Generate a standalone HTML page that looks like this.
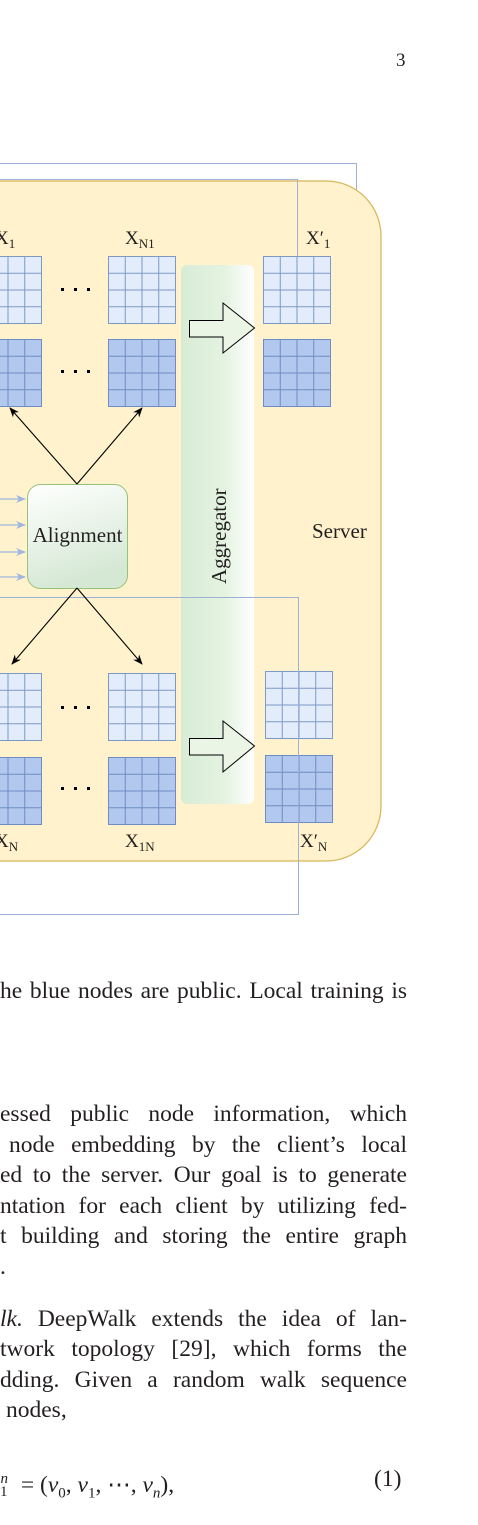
<!DOCTYPE html>
<html><head><meta charset="utf-8"><style>
body{margin:0;width:478px;height:1525px;background:#fff;position:relative;overflow:hidden;font-family:"Liberation Serif",serif;color:#231f20}
svg{position:absolute;left:0;top:0}
.t{position:absolute;left:0;width:407px;font-size:23.5px;line-height:25px;white-space:nowrap;text-align:justify;text-align-last:justify}
.r{text-align-last:left}
</style></head><body>
<div style="position:absolute;left:396px;top:50px;font-size:19px">3</div>
<svg width="478" height="1000" viewBox="0 0 478 1000">
<defs>
<linearGradient id="ag" x1="0" x2="1"><stop offset="0" stop-color="#d8ecd5"/><stop offset="0.6" stop-color="#e4f3e1"/><stop offset="1" stop-color="#ffffff"/></linearGradient>
<linearGradient id="al" x1="0" y1="0" x2="0.3" y2="1"><stop offset="0" stop-color="#ffffff"/><stop offset="1" stop-color="#d5e8d4"/></linearGradient>
<symbol id="gl" viewBox="0 0 68 68" width="68" height="68"><rect x="0.5" y="0.5" width="67" height="67" fill="#e3ecfa" stroke="#7d99c8"/><path d="M17.25 0.5V67.5M34 0.5V67.5M50.75 0.5V67.5M0.5 17.25H67.5M0.5 34H67.5M0.5 50.75H67.5" stroke="#7d99c8" stroke-width="1"/></symbol>
<symbol id="gd" viewBox="0 0 68 68" width="68" height="68"><rect x="0.5" y="0.5" width="67" height="67" fill="#b3c8ef" stroke="#6f8cc4"/><path d="M17.25 0.5V67.5M34 0.5V67.5M50.75 0.5V67.5M0.5 17.25H67.5M0.5 34H67.5M0.5 50.75H67.5" stroke="#6f8cc4" stroke-width="1"/></symbol>
<marker id="ah" markerWidth="10" markerHeight="10" refX="9" refY="5" orient="auto" markerUnits="userSpaceOnUse"><path d="M0,1 L10,5 L0,9 L3,5z" fill="#000"/></marker>
<marker id="bh" markerWidth="10" markerHeight="10" refX="9" refY="5" orient="auto" markerUnits="userSpaceOnUse"><path d="M0,1 L10,5 L0,9 L3,5z" fill="#9fb6e0"/></marker>
</defs>
<path d="M0 163.5H356.5V372.5H332" fill="none" stroke="#9fb0d6" stroke-width="1"/>
<rect x="-60" y="181" width="441" height="680" rx="55" fill="#fff2cc" stroke="#d6b656" stroke-width="1.2"/>
<path d="M0 179.5H297.5V256" fill="none" stroke="#9fb0d6" stroke-width="1"/>
<rect x="181" y="265" width="73" height="539" rx="6" fill="url(#ag)"/>
<use href="#gl" x="-26" y="256"/><use href="#gl" x="108" y="256"/><use href="#gl" x="263" y="256"/>
<use href="#gd" x="-26" y="339"/><use href="#gd" x="108" y="339"/><use href="#gd" x="263" y="339"/>
<use href="#gl" x="-26" y="673"/><use href="#gl" x="108" y="673"/><use href="#gl" x="265" y="671"/>
<use href="#gd" x="-26" y="757"/><use href="#gd" x="108" y="757"/><use href="#gd" x="265" y="755"/>
<g fill="#000">
<rect x="61" y="288" width="3" height="3"/><rect x="74" y="288" width="3" height="3"/><rect x="87" y="288" width="3" height="3"/>
<rect x="61" y="370" width="3" height="3"/><rect x="74" y="370" width="3" height="3"/><rect x="87" y="370" width="3" height="3"/>
<rect x="61" y="706" width="3" height="3"/><rect x="74" y="706" width="3" height="3"/><rect x="87" y="706" width="3" height="3"/>
<rect x="61" y="787" width="3" height="3"/><rect x="74" y="787" width="3" height="3"/><rect x="87" y="787" width="3" height="3"/>
</g>
<g font-size="19" fill="#231f20">
<text x="-5" y="244">X<tspan font-size="13" dy="4">1</tspan></text>
<text x="125" y="244">X<tspan font-size="13" dy="4">N1</tspan></text>
<text x="306" y="244">X′<tspan font-size="13" dy="4">1</tspan></text>
<text x="-5" y="847">X<tspan font-size="13" dy="4">N</tspan></text>
<text x="125" y="847">X<tspan font-size="13" dy="4">1N</tspan></text>
<text x="300" y="847">X′<tspan font-size="13" dy="4">N</tspan></text>
<text x="312" y="538" font-size="21">Server</text>
<text transform="translate(226,584) rotate(-90)" font-size="21">Aggregator</text>
</g>
<path d="M189.5 320.5H223V303L254.5 328L223 353V337H189.5Z" fill="#eaf5e6" stroke="#000" stroke-width="1"/>
<path d="M189.5 738.5H223V721L254.5 746L223 772V755H189.5Z" fill="#eaf5e6" stroke="#000" stroke-width="1"/>
<path d="M0 597.5H298.5V914.5H0" fill="none" stroke="#9fb0d6" stroke-width="1"/>
<rect x="27.5" y="484.5" width="100" height="104" rx="13" fill="url(#al)" stroke="#97c27a" stroke-width="1"/>
<text x="77.5" y="542" font-size="21" text-anchor="middle" fill="#231f20">Alignment</text>
<g stroke="#000" stroke-width="1.1" fill="none">
<path d="M77 484L10 408" marker-end="url(#ah)"/><path d="M77 484L142 408" marker-end="url(#ah)"/>
<path d="M77 588L12 664" marker-end="url(#ah)"/><path d="M77 588L142 664" marker-end="url(#ah)"/>
</g>
<g stroke="#9fb6e0" stroke-width="1.2" fill="none">
<path d="M0 499H25" marker-end="url(#bh)"/><path d="M0 525H25" marker-end="url(#bh)"/><path d="M0 552H25" marker-end="url(#bh)"/><path d="M0 577H25" marker-end="url(#bh)"/>
</g>
</svg>
<div class="t" style="top:979px;width:407px">he blue nodes are public. Local training is</div>
<div class="t" style="top:1102px">essed public node information, which</div>
<div class="t" style="top:1133px;padding-left:9px;width:398px">node embedding by the client’s local</div>
<div class="t" style="top:1163px">ed to the server. Our goal is to generate</div>
<div class="t" style="top:1194px">ntation for each client by utilizing fed-</div>
<div class="t" style="top:1224px">t building and storing the entire graph</div>
<div class="t r" style="top:1255px">.</div>
<div class="t" style="top:1307px"><i>lk.</i> DeepWalk extends the idea of lan-</div>
<div class="t" style="top:1337px">twork topology [29], which forms the</div>
<div class="t" style="top:1368px">dding. Given a random walk sequence</div>
<div class="t r" style="top:1398px;padding-left:6px">nodes,</div>
<div class="t r" style="top:1467px"><sub style="font-size:15px;position:relative;top:-2px">1</sub><sup style="font-size:15px;position:relative;left:-7px"><i>n</i></sup> = (<i>v</i><sub style="font-size:15px">0</sub>, <i>v</i><sub style="font-size:15px">1</sub>, ⋯, <i>v<sub style="font-size:15px">n</sub></i>),</div>
<div style="position:absolute;left:374px;top:1467px;font-size:23.5px;line-height:25px">(1)</div>
</body></html>
